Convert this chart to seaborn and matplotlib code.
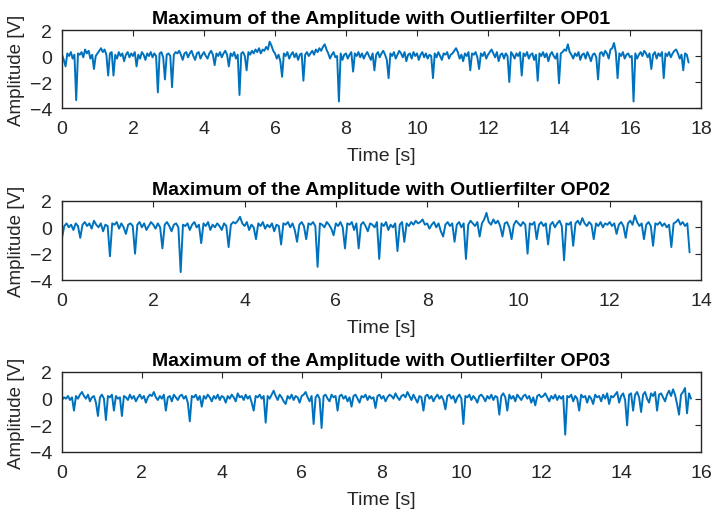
import numpy as np
import pandas as pd
import matplotlib
matplotlib.use("Agg")
import matplotlib.pyplot as plt
import seaborn as sns

titles = ["Maximum of the Amplitude with Outlierfilter OP01",
          "Maximum of the Amplitude with Outlierfilter OP02",
          "Maximum of the Amplitude with Outlierfilter OP03"]
x_limits = [18, 14, 16]
sample_step = 0.05  # seconds between samples

# amplitudes in tenths of a volt (10 samples = 0.5 s per row)
op01_dv = [
    1, -3, -8, 2, 0, 3, -2, 1, -34, 2,
    1, 3, -1, 5, 2, 4, -2, 1, -10, 0,
    2, 4, 6, 3, 5, 1, -15, 2, 3, -15,
    1, -2, 3, 0, 2, -4, 1, 3, -1, 2,
    0, 3, -8, 1, -2, 3, 1, -3, 2, 0,
    3, -1, 2, 0, -28, 2, 3, -1, -18, 1,
    2, 0, -24, 1, 3, 2, 4, 1, -3, 2,
    3, -1, 2, 4, 0, -3, 2, 3, -2, 1,
    3, 0, -2, 2, 4, 1, -7, 2, 0, 3,
    -1, 2, 4, 1, -8, 2, 0, 3, -2, 1,
    -30, 2, 3, 0, -11, 3, 1, 4, 2, 5,
    3, 6, 2, 5, 4, 7, 5, 11, 8, 4,
    2, -2, 1, -4, -16, 2, 0, 3, -2, 1,
    3, -1, 2, -3, 1, 2, -19, 1, 3, 0,
    2, 4, 1, 5, 3, 6, 4, 7, 9, 5,
    2, -2, 1, 3, -1, 0, -35, 2, -3, 1,
    2, -2, 1, 3, -12, 2, 0, 3, -1, 2,
    -2, 1, 3, 0, -3, 2, -11, 1, 3, -1,
    2, 4, 1, -3, -17, 2, 0, 3, -2, 1,
    4, 2, -1, 3, -4, 1, 2, -2, 3, 0,
    2, -3, 1, 3, -1, 2, -2, 1, 0, -17,
    2, -1, 3, 0, -3, 2, 1, 3, -2, 1,
    2, 4, 6, 3, -2, 1, -4, 2, 0, 3,
    -11, 2, 1, 3, -1, -10, 2, 0, 3, -2,
    1, 3, 5, 2, -1, 3, -4, 1, 2, -2,
    2, 0, -20, 3, 1, -2, 2, 0, 3, -15,
    2, 0, 3, -2, 1, 2, -3, 1, -19, 2,
    0, 3, -1, 2, -4, 1, 3, 0, -2, 2,
    -21, 2, 3, 5, 4, 9, 3, 1, -2, 2,
    0, 3, -3, 1, 2, -2, 3, 0, -4, 1,
    2, -1, -18, 2, 3, 0, 4, 2, -2, 5,
    6, 10, 3, -17, 2, 0, 3, -2, 1, 2,
    -1, 0, -35, 2, -2, 1, 3, 0, 4, 2,
    -1, 2, -10, 1, 3, -2, 2, 0, 3, -17,
    2, 0, 3, -1, 2, 4, 5, 2, -2, 1,
    -11, 2, 1, -5]

op02_dv = [
    -8, 1, 3, 0, 2, -2, 3, 1, -8, 2,
    4, 1, 3, -1, 5, 2, 0, 3, -3, 2,
    1, -22, 3, 2, 4, -1, 3, 0, -5, 2,
    3, 1, -20, 2, 4, 0, 3, -2, 1, 4,
    2, -1, 3, 0, -16, 2, 4, 1, -3, 2,
    3, 0, -34, 2, 1, 3, -2, 2, 4, 0,
    2, -12, 3, 1, 4, -2, 2, 0, 3, 1,
    -2, 3, 1, -15, 2, 4, 3, 5, 8, 3,
    1, 4, -2, 2, 0, -9, 3, 1, 4, -1,
    2, 0, 3, -3, 2, 1, -13, 3, 2, 4,
    0, 3, -2, -11, 2, 4, 1, -9, 3, 2,
    4, 1, -30, 3, 2, 0, 4, 2, -1, -6,
    3, 1, 4, 0, -16, 3, 2, 4, -2, 3,
    -16, 2, 4, 1, -3, 3, 2, 0, 4, -24,
    3, 1, 4, -2, 2, 0, 3, -18, 2, 4,
    -11, 3, 1, 4, 2, 5, 3, 4, 6, 2,
    3, -1, 2, 4, 0, 3, -3, -7, 2, 4,
    1, 3, -11, 2, 4, 0, 3, -24, 2, 5,
    3, 1, 4, -7, 3, 6, 11, 4, 2, 6,
    3, 5, 1, -7, 3, 4, 0, -9, 2, 5,
    3, 1, 4, 2, -20, 3, 2, 4, -9, 2,
    4, 1, 3, -13, 2, 4, 0, 3, 5, 1,
    -25, 3, 2, 4, -14, 3, 5, 2, 7, 3,
    1, 4, 2, -9, 3, 1, 4, 0, 3, 2,
    4, 1, 3, -5, 2, 4, 1, -8, 3, 5,
    2, 9, 4, 1, 3, -9, 2, 4, 1, -14,
    3, 2, 4, 1, 3, 0, 2, -15, 3, 4,
    6, 2, 4, 1, 3, -19]

op03_dv = [
    -1, 1, 0, 2, -1, 1, -9, 2, 0, 3,
    5, 2, 0, 3, -2, 1, 2, -3, -13, 1,
    3, 0, -16, 2, 1, 3, -9, 2, 0, 1,
    -13, 2, 1, -1, 3, 0, 2, -2, 1, 3,
    0, 2, -3, 1, 3, 2, 5, 1, -1, 2,
    0, 3, -9, 1, 2, -2, 3, 1, -1, 2,
    3, 0, 2, -3, -17, 2, 1, 3, -1, 2,
    -6, 2, 0, 3, 1, -2, 2, 0, 3, -1,
    2, 1, -3, 2, 0, 3, 1, -2, 4, 1,
    2, -1, 3, 0, 2, -3, -9, 2, 1, 3,
    0, 2, -18, 2, 0, 3, 6, 2, -1, 3,
    1, -2, -4, 2, 0, 3, -1, 2, 1, -3,
    2, 3, 5, 1, -2, 2, -19, 1, 3, 0,
    -22, 2, 3, 0, -2, 3, 1, 2, -9, 2,
    3, 0, 2, -2, 1, -6, 2, 3, 0, -3,
    2, 1, 3, -1, 2, 0, 1, -7, 2, 3,
    0, 2, -2, 1, 3, 2, 0, 4, 1, -1,
    2, 3, 1, 5, 2, -1, 3, 0, -3, 2,
    1, -9, 2, 3, 0, 2, -2, 1, 3, 0,
    2, -1, -8, 2, 3, 0, 2, -3, 1, 3,
    0, -19, 2, 1, 3, -1, 2, 0, -3, 2,
    3, 1, -2, 2, 0, 3, -1, 2, 1, -12,
    2, 4, 1, -9, 3, 0, 2, -2, 3, 1,
    -1, 2, 3, 0, 2, -3, 1, -5, 2, 3,
    1, 2, 4, 1, -2, 2, 0, 3, -1, 2,
    0, 2, -27, 2, 1, 3, -2, 2, 0, -9,
    3, 1, 2, -3, 2, 0, -4, 3, 1, 2,
    -2, 3, 0, 4, -4, 2, 1, 3, 5, -3,
    2, 4, -1, -20, 3, 4, -9, 3, 5, 1,
    -10, 3, 5, 0, -3, 4, 2, 5, -9, 3,
    4, 1, -2, 3, 6, 2, 7, 3, -4, -12,
    3, 5, 8, -11, 4, 0]

series = [op01_dv, op02_dv, op03_dv]

sns.set_style("white")
plt.rcParams['font.family'] = ['Liberation Sans', 'DejaVu Sans']

fig = plt.figure(figsize=(7.13, 5.10), dpi=100)
left = 62 / 713
width = (701 - 62) / 713
panel_px = [(31, 109), (202, 281), (373, 453)]
color = "#0072BD"

for vals, title, xmax, (top, bot) in zip(series, titles, x_limits, panel_px):
    ax = fig.add_axes([left, 1 - bot / 510, width, (bot - top) / 510])
    amp = np.asarray(vals, dtype=float) / 10.0
    df = pd.DataFrame({"Time": np.arange(len(amp)) * sample_step, "Amplitude": amp})
    sns.lineplot(data=df, x="Time", y="Amplitude", ax=ax, color=color, linewidth=1.4)
    ax.set_xlim(0, xmax)
    ax.set_ylim(-4, 2)
    ax.set_yticks([-4, -2, 0, 2])
    ax.set_xticks(np.arange(0, xmax + 1, 2))
    ax.set_title(title, fontsize=14, fontweight="bold", pad=5, color="black")
    ax.set_xlabel("Time [s]", fontsize=14, labelpad=7, color="#262626")
    ax.set_ylabel("Amplitude [V]", fontsize=13.5, color="#262626")
    ax.yaxis.set_label_coords(-0.058, 0.5)
    ax.tick_params(axis="both", labelsize=14, direction="in", top=True, right=True,
                   length=4, width=0.8, colors="#262626", pad=9)
    ax.tick_params(axis="y", pad=7)
    for s in ax.spines.values():
        s.set_visible(True)
        s.set_color("#262626")
        s.set_linewidth(1.0)

fig.savefig("out.png", dpi=100)
